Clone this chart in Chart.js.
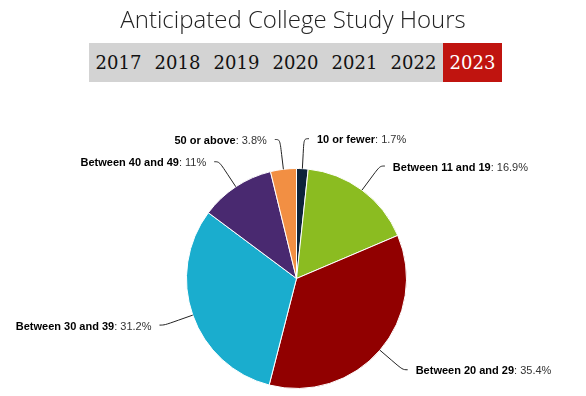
<!DOCTYPE html>
<html>
<head>
<meta charset="utf-8">
<title>Anticipated College Study Hours</title>
<script src="https://cdn.jsdelivr.net/npm/chart.js@4"></script>
<style>
    body { margin: 0; width: 586px; height: 396px; background: #fff; position: relative; overflow: hidden; }
    #myChart { position: absolute; left: 0; top: 0; z-index: 0; }
    #title { position: absolute; top: 2px; left: 0; width: 586px; text-align: center; font: 300 24px "Open Sans"; color: #222; z-index: 1; }
    #years { position: absolute; left: 89px; top: 43px; width: 413px; height: 39px; background: #d3d3d3; display: flex; z-index: 1; }
    #years span { width: 59px; text-align: center; font: 18px "DejaVu Serif"; line-height: 39px; color: #111; }
    #years span.on { background: #c0140f; color: #fff; }
</style>
</head>
<body>
<canvas id="myChart" width="586" height="396"></canvas>
<div id="title">Anticipated College Study Hours</div>
<div id="years"></div>

<script>
const categories = ['10 or fewer', 'Between 11 and 19', 'Between 20 and 29', 'Between 30 and 39', 'Between 40 and 49', '50 or above'];
const shares = [1.7, 16.9, 35.4, 31.2, 11, 3.8];
const years = ['2017', '2018', '2019', '2020', '2021', '2022', '2023'];
const activeYear = '2023';

const colors = ['#0d233a', '#8bbc21', '#910000', '#1aadce', '#492970', '#f28f43'];

// year switcher
const bar = document.getElementById('years');
years.forEach(y => {
    const s = document.createElement('span');
    s.textContent = y;
    if (y === activeYear) s.className = 'on';
    bar.appendChild(s);
});

// outside labels with soft connectors
const pieLabels = {
    id: 'pieLabels',
    afterDatasetsDraw(chart) {
        const ctx = chart.ctx;
        const meta = chart.getDatasetMeta(0);
        ctx.save();
        meta.data.forEach((arc, i) => {
            const p = arc.getProps(['x', 'y', 'startAngle', 'endAngle', 'outerRadius'], true);
            const a = (p.startAngle + p.endAngle) / 2;
            const cos = Math.cos(a), sin = Math.sin(a);
            const dir = cos >= 0 ? 1 : -1;
            const r = p.outerRadius;
            const lx = p.x + cos * (r + 30), ly = p.y + sin * (r + 30);
            const bx = p.x + cos * (r + 15), by = p.y + sin * (r + 15);
            const ex = p.x + cos * r, ey = p.y + sin * r;

            ctx.beginPath();
            ctx.moveTo(lx + dir * 5, ly);
            ctx.bezierCurveTo(lx, ly, 2 * bx - ex, 2 * by - ey, bx, by);
            ctx.lineTo(ex, ey);
            ctx.strokeStyle = '#222';
            ctx.lineWidth = 1;
            ctx.stroke();

            const name = categories[i];
            const val = ': ' + shares[i] + '%';
            ctx.textBaseline = 'middle';
            ctx.textAlign = 'left';
            ctx.font = 'bold 11px "Liberation Sans"';
            const w1 = ctx.measureText(name).width;
            ctx.font = '11px "Liberation Sans"';
            const w2 = ctx.measureText(val).width;
            let tx = dir > 0 ? lx + 13 : lx - 13 - w1 - w2;
            const ty = ly + 1.5;
            ctx.fillStyle = '#000';
            ctx.font = 'bold 11px "Liberation Sans"';
            ctx.fillText(name, tx, ty);
            ctx.font = '11px "Liberation Sans"';
            ctx.fillStyle = '#333';
            ctx.fillText(val, tx + w1, ty);
        });
        ctx.restore();
    }
};

const ctx = document.getElementById('myChart').getContext('2d');
const myChart = new Chart(ctx, {
    type: 'pie',
    data: {
        labels: categories,
        datasets: [{
            data: shares,
            backgroundColor: colors,
            borderColor: '#fff',
            borderWidth: 1
        }]
    },
    options: {
        responsive: false,
        devicePixelRatio: 1,
        animation: false,
        layout: {
            padding: { left: 186, right: 179, top: 168, bottom: 7 }
        },
        plugins: {
            legend: { display: false },
            tooltip: { enabled: false }
        }
    },
    plugins: [pieLabels]
});
</script>
</body>
</html>
